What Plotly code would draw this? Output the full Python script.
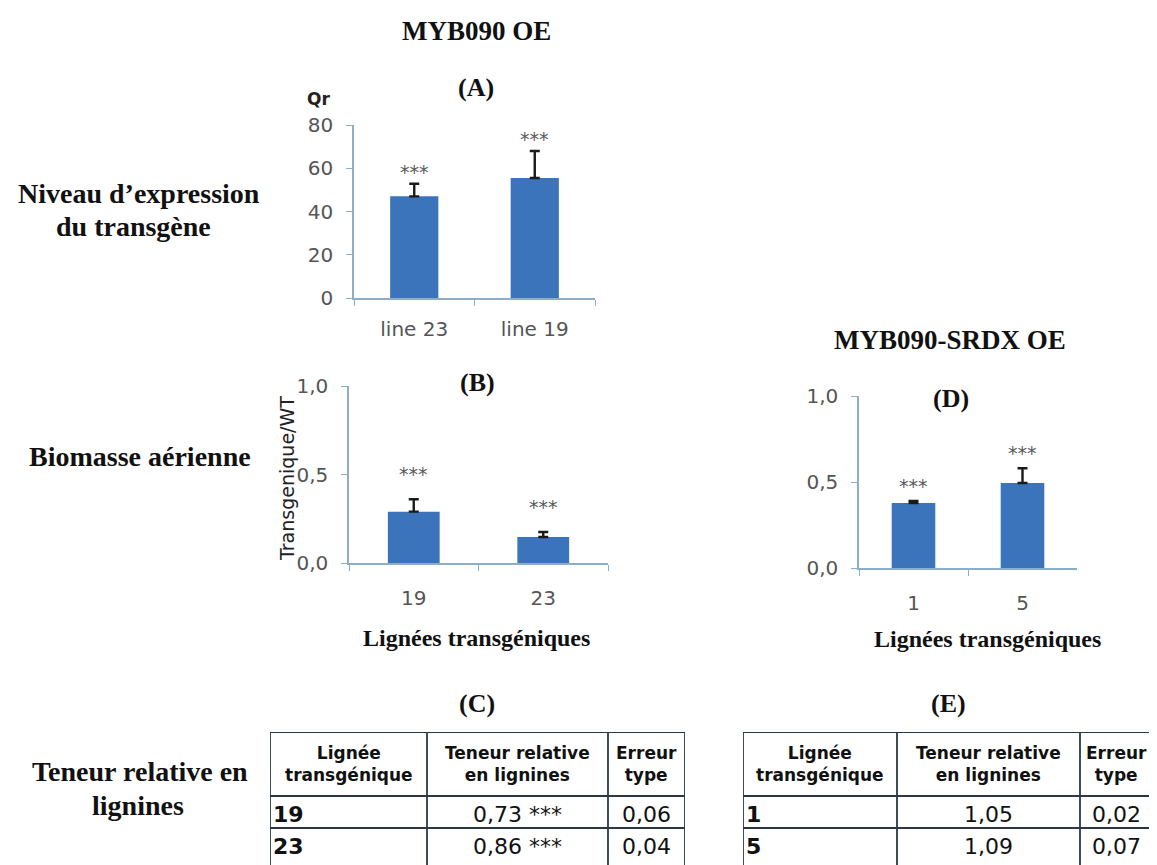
"""Composite figure: MYB090 OE / MYB090-SRDX OE bar panels and lignin tables."""

import plotly.graph_objects as go

# the page body keeps its default 8 px margin, so the figure is drawn 8 px in
OFF = 8
W, H = 1157 - OFF, 865 - OFF

# panel A: transgene expression level (Qr)
a_lines = ["line 23", "line 19"]
a_values = [47.0, 55.5]
a_errors = [5.8, 12.5]

# panel B: aerial biomass, MYB090 OE
b_lines = ["19", "23"]
b_values = [0.29, 0.147]
b_errors = [0.07, 0.028]

# panel D: aerial biomass, MYB090-SRDX OE
d_lines = ["1", "5"]
d_values = [0.378, 0.494]
d_errors = [0.012, 0.086]

# tables C and E
table_header = ["Lignée<br>transgénique", "Teneur relative<br>en lignines", "Erreur<br>type"]
c_lines = ["19", "23"]
c_lignin = ["0,73 ***", "0,86 ***"]
c_se = ["0,06", "0,04"]
e_lines = ["1", "5"]
e_lignin = ["1,05", "1,09"]
e_se = ["0,02", "0,07"]

BAR = "#3B74BB"
AXIS = "#8DAECB"
GRID_LINE = "#2B3844"
SANS = "DejaVu Sans"
SERIF = "Liberation Serif"
TICK_FONT = dict(family=SANS, size=20, color="#555555")


def px_x(x):
    return (x - OFF) / W


def px_y(y):
    return 1 - (y - OFF) / H


fig = go.Figure()


def add_panel(idx, cats, vals, errs, xdom, ydom, yrange, tickvals, ticktext, star_shift, xlabel_gap):
    xa, ya = f"x{idx}", f"y{idx}"
    fig.add_trace(
        go.Bar(
            x=cats,
            y=vals,
            width=0.4,
            marker=dict(color=BAR, line=dict(width=0)),
            error_y=dict(type="data", array=errs, arrayminus=[0] * len(errs),
                         color="#1A1A1A", thickness=2.4, width=5),
            xaxis=xa,
            yaxis=ya,
            showlegend=False,
            hoverinfo="x+y",
        )
    )
    for i, (v, e) in enumerate(zip(vals, errs)):
        fig.add_annotation(
            x=i, y=v + e, xref=xa, yref=ya, text="***", showarrow=False,
            xanchor="center", yanchor="bottom", yshift=star_shift,
            font=dict(family=SANS, size=19, color="#5A5A5A"),
        )
    fig.layout[f"xaxis{idx}"] = dict(
        domain=[px_x(xdom[0]), px_x(xdom[1])], anchor=ya, type="category",
        categoryorder="array", categoryarray=cats, range=[-0.5, len(cats) - 0.5],
        showline=True, linecolor=AXIS, linewidth=1.5,
        ticks="outside", tickson="boundaries", ticklen=6, tickcolor=AXIS,
        ticklabelstandoff=xlabel_gap,
        tickfont=TICK_FONT, showgrid=False, automargin=False, fixedrange=True,
    )
    fig.layout[f"yaxis{idx}"] = dict(
        domain=[px_y(ydom[1]), px_y(ydom[0])], anchor=xa, range=yrange,
        showline=True, linecolor=AXIS, linewidth=1.5,
        ticks="outside", ticklen=6, tickcolor=AXIS, ticklabelstandoff=9,
        tickvals=tickvals, ticktext=ticktext, tickfont=TICK_FONT,
        showgrid=False, zeroline=False, automargin=False, fixedrange=True,
    )


add_panel(1, a_lines, a_values, a_errors, (354, 595), (125, 298), [0, 80],
          [0, 20, 40, 60, 80], ["0", "20", "40", "60", "80"], -1, 12)
add_panel(2, b_lines, b_values, b_errors, (349, 608), (386, 563), [0, 1],
          [0, 0.5, 1.0], ["0,0", "0,5", "1,0"], 12, 16)
add_panel(3, d_lines, d_values, d_errors, (859, 1077), (396, 568), [0, 1],
          [0, 0.5, 1.0], ["0,0", "0,5", "1,0"], 2, 16)


def add_table(idx, xdom, col_widths, lines, lignin, se):
    """Table drawn on a hidden axis pair measured in pixels from its top-left corner."""
    xa, ya = f"x{idx}", f"y{idx}"
    total = sum(col_widths)
    depth = 865 - 732
    header_h, row_h = 64, 32
    fig.layout[f"xaxis{idx}"] = dict(domain=[px_x(xdom[0]), px_x(xdom[1])], range=[0, total],
                                     anchor=ya, visible=False, fixedrange=True)
    fig.layout[f"yaxis{idx}"] = dict(domain=[0, px_y(732)], range=[depth, 0],
                                     anchor=xa, visible=False, fixedrange=True)
    edges = [0]
    for w in col_widths:
        edges.append(edges[-1] + w)
    line = dict(color=GRID_LINE, width=1.8)
    for xe in edges:
        fig.add_shape(type="line", xref=xa, yref=ya, x0=xe, x1=xe, y0=0, y1=depth, line=line)
    for ye in (0, header_h, header_h + row_h):
        fig.add_shape(type="line", xref=xa, yref=ya, x0=0, x1=total, y0=ye, y1=ye, line=line)
    centers = [(edges[i] + edges[i + 1]) / 2 for i in range(len(col_widths))]
    for text, xc in zip(table_header, centers):
        fig.add_annotation(x=xc, y=header_h / 2, xref=xa, yref=ya, text=f"<b>{text}</b>",
                           showarrow=False, align="center", xanchor="center", yanchor="middle",
                           font=dict(family=SANS, size=17, color="#111111"))
    for r, (ln, lg, s) in enumerate(zip(lines, lignin, se)):
        yc = header_h + row_h * r + row_h / 2 + 2
        fig.add_annotation(x=edges[0], y=yc, xref=xa, yref=ya, text=f"<b>{ln}</b>",
                           showarrow=False, xanchor="left", yanchor="middle", xshift=1,
                           font=dict(family=SANS, size=22, color="#111111"))
        fig.add_annotation(x=centers[1], y=yc, xref=xa, yref=ya, text=lg, showarrow=False,
                           xanchor="center", yanchor="middle",
                           font=dict(family=SANS, size=22, color="#111111"))
        fig.add_annotation(x=centers[2], y=yc, xref=xa, yref=ya, text=s, showarrow=False,
                           xanchor="center", yanchor="middle",
                           font=dict(family=SANS, size=22, color="#111111"))


add_table(4, (270, 685), [157, 181, 77], c_lines, c_lignin, c_se)
add_table(5, (743, 1153), [154, 183, 73], e_lines, e_lignin, e_se)


def label(text, x, y, size=28, family=SERIF, bold=True, color="#111111", **kw):
    fig.add_annotation(
        x=px_x(x), y=px_y(y), xref="paper", yref="paper", showarrow=False,
        xanchor="center", yanchor="middle",
        text=f"<b>{text}</b>" if bold else text,
        font=dict(family=family, size=size, color=color), **kw,
    )


label("MYB090 OE", 476, 31, 27)
label("(A)", 476, 88, 26)
label("Qr", 318, 99, 17, family=SANS, color="#222222")
label("Niveau d’expression", 139, 193)
label("du transgène", 133, 226)
label("(B)", 477, 382, 26)
label("Biomasse aérienne", 140, 456)
label("Transgenique/WT", 287, 479, 19, family=SANS, bold=False, color="#222222", textangle=-90)
label("Lignées transgéniques", 476, 638, 24)
label("MYB090-SRDX OE", 950, 340, 27)
label("(D)", 951, 398, 26)
label("Lignées transgéniques", 987, 639, 24)
label("(C)", 477, 703, 26)
label("(E)", 948, 703, 26)
label("Teneur relative en", 140, 771)
label("lignines", 138, 805)

fig.update_layout(
    template="none",
    width=W, height=H,
    margin=dict(l=0, r=0, t=0, b=0, autoexpand=False),
    paper_bgcolor="white", plot_bgcolor="white",
    showlegend=False,
)

fig.write_html("out.html")
